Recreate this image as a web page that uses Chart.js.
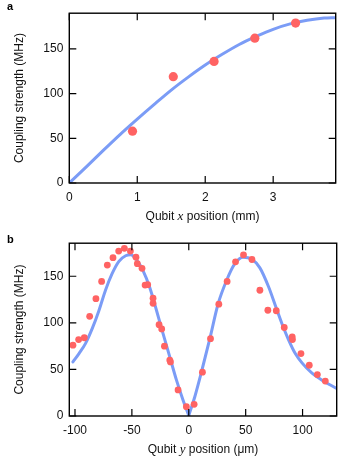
<!DOCTYPE html>
<html><head><meta charset="utf-8">
<script src="https://cdn.jsdelivr.net/npm/chart.js@4.4.1/dist/chart.umd.min.js"></script>
<style>html,body{margin:0;padding:0;background:#fff;}canvas{display:block;}</style>
</head><body>
<canvas id="ca" width="346" height="230"></canvas>
<canvas id="cb" width="346" height="229"></canvas>
<script>
// ---------- data ----------
const xTicksA = [0, 1, 2, 3];
const yTicksA = [0, 50, 100, 150];
const xTicksB = [-100, -50, 0, 50, 100];
const yTicksB = [0, 50, 100, 150];

// panel a: measured points
const posA  = [0.93, 1.53, 2.13, 2.73, 3.33];
const coupA = [58, 119, 136, 162, 179];
// panel a: fit curve
const fitPosA  = [0, 0.25, 0.5, 0.75, 1.0, 1.25, 1.5, 1.75, 2.0, 2.25, 2.5, 2.75, 3.0, 3.25, 3.5, 3.75, 3.92];
const fitCoupA = [0, 18, 36.5, 54.5, 71.5, 88, 104, 118.5, 132, 144, 155, 164, 172, 178, 182, 184.5, 185];

// panel b: measured points
const posB  = [-101.8, -96.8, -91.8, -87.1, -81.6, -76.6, -71.6, -66.6, -61.6, -56.6, -51.3, -46.4, -45.2, -41.1, -38.4, -36.1, -31.4, -31.4, -26.1, -23.8, -21.4, -16.7, -16.1, -9.4, -2.1, 4.7, 12.0, 19.1, 26.4, 33.7, 41.1, 48.1, 55.5, 62.5, 69.5, 76.9, 83.9, 90.9, 91.1, 98.6, 105.9, 113.0, 120.0];
const coupB = [76, 82, 84, 107, 126, 144.5, 162, 170, 177, 180, 177, 170.5, 163.5, 158.5, 140.5, 141, 126.5, 121, 98, 93.5, 75, 60, 58, 28, 10, 12.5, 47, 83, 120, 144.5, 165.5, 173, 168, 135, 113.5, 113, 95, 85, 82, 67, 54.5, 44.5, 37.5];
// panel b: fit curve, two branches meeting at the cusp
const fitLeftPosB  = [-101.8, -96.5, -90.7, -84.8, -79, -73.2, -67.3, -61.4, -55.5, -51, -45.5, -40.2, -34.3, -28.4, -22.6, -16.7, -10.8, -5, 0];
const fitLeftCoupB = [58, 67, 78, 94, 113, 135, 153, 166, 172, 173, 167, 156, 138, 113.5, 88.5, 63.5, 38.5, 17, 0.5];
const fitRightPosB  = [0, 5.3, 11.2, 18.5, 25.8, 33.2, 40.5, 47.8, 55.2, 62.5, 70.2, 76, 81.9, 87.8, 93.6, 99.5, 108.3, 117.1, 124, 130];
const fitRightCoupB = [0.5, 20.7, 47.5, 83, 120.5, 145.5, 163.5, 170.5, 168.5, 159, 138.5, 119, 99, 81.5, 67, 57, 46, 38.5, 33.5, 29.5];

// ---------- styling ----------
const FONT = "'Liberation Sans', Arial, sans-serif";
const DOT = '#ff6363';
const LINE = '#7b9cf6';
Chart.defaults.font.family = FONT;
Chart.defaults.font.size = 12;
Chart.defaults.color = '#111';
Chart.defaults.animation = false;

const pts = (xs, ys) => xs.map((x, i) => ({x: x, y: ys[i]}));

const frame = {
  id: 'frame',
  afterDatasetsDraw(chart, args, o) {
    const {ctx, chartArea: a, scales} = chart;
    ctx.save();
    ctx.strokeStyle = '#000';
    ctx.lineWidth = 1.4;
    ctx.strokeRect(a.left, a.top, a.right - a.left, a.bottom - a.top);
    ctx.lineWidth = 1.2;
    const L = 7;
    ctx.beginPath();
    o.xt.forEach(v => {
      const px = scales.x.getPixelForValue(v);
      ctx.moveTo(px, a.bottom); ctx.lineTo(px, a.bottom - L);
      ctx.moveTo(px, a.top); ctx.lineTo(px, a.top + L);
    });
    o.yt.forEach(v => {
      const py = scales.y.getPixelForValue(v);
      ctx.moveTo(a.left, py); ctx.lineTo(a.left + L, py);
      ctx.moveTo(a.right, py); ctx.lineTo(a.right - L, py);
    });
    ctx.stroke();
    // panel letter
    ctx.fillStyle = '#000';
    ctx.font = 'bold 11px ' + FONT;
    ctx.textBaseline = 'alphabetic';
    ctx.textAlign = 'left';
    ctx.fillText(o.letter, 7, o.letterY);
    // x-axis title with italic variable
    const parts = [['Qubit ', '12px ' + FONT], [o.v, 'italic 13px "Liberation Serif", serif'], [' position (' + o.unit + ')', '12px ' + FONT]];
    let w = 0;
    parts.forEach(p => { ctx.font = p[1]; w += ctx.measureText(p[0]).width; });
    let x = (a.left + a.right) / 2 - w / 2;
    const y = a.bottom + o.titleDy;
    ctx.textBaseline = 'middle';
    ctx.fillStyle = '#111';
    parts.forEach(p => { ctx.font = p[1]; ctx.fillText(p[0], x, y); x += ctx.measureText(p[0]).width; });
    ctx.restore();
  }
};

function makeChart(id, cfg) {
  return new Chart(document.getElementById(id), {
    type: 'scatter',
    data: {datasets: cfg.datasets},
    options: {
      responsive: false,
      devicePixelRatio: 1,
      layout: {padding: cfg.padding},
      plugins: {legend: {display: false}, tooltip: {enabled: false}, frame: cfg.frame},
      scales: {
        x: {
          type: 'linear', min: cfg.xmin, max: cfg.xmax,
          grid: {display: false, drawTicks: false},
          border: {display: false},
          ticks: {padding: 7, font: {size: 12}},
          afterBuildTicks: s => { s.ticks = cfg.xt.map(v => ({value: v})); },
          afterFit: s => { s.height = cfg.xh; }
        },
        y: {
          type: 'linear', min: 0, max: cfg.ymax,
          grid: {display: false, drawTicks: false},
          border: {display: false},
          ticks: {padding: 6, font: {size: 12}},
          afterBuildTicks: s => { s.ticks = cfg.yt.map(v => ({value: v})); },
          afterFit: s => { s.width = 69.3; },
          title: {display: true, text: 'Coupling strength (MHz)', padding: {top: 12, bottom: 0}, font: {size: 12}}
        }
      }
    },
    plugins: [frame]
  });
}

const lineDs = (data) => ({data: data, showLine: true, borderColor: LINE, borderWidth: 3, pointRadius: 0, cubicInterpolationMode: 'monotone', order: 2, borderCapStyle: 'round'});
const dotDs = (data, r) => ({data: data, showLine: false, backgroundColor: DOT, borderWidth: 0, pointRadius: r, order: 1});

makeChart('ca', {
  datasets: [dotDs(pts(posA, coupA), 4.6), lineDs(pts(fitPosA, fitCoupA))],
  padding: {left: 0, right: 10.3, top: 10, bottom: 0},
  xmin: 0, xmax: 3.92, ymax: 190, xt: xTicksA, yt: yTicksA, xh: 47,
  frame: {xt: xTicksA, yt: yTicksA, letter: 'a', letterY: 9.5, v: 'x', unit: 'mm', titleDy: 34}
});

makeChart('cb', {
  datasets: [dotDs(pts(posB, coupB), 3.4), lineDs(pts(fitLeftPosB, fitLeftCoupB)), lineDs(pts(fitRightPosB, fitRightCoupB))],
  padding: {left: 0, right: 9.3, top: 12.7, bottom: 0},
  xmin: -105, xmax: 130, ymax: 185.5, xt: xTicksB, yt: yTicksB, xh: 43,
  frame: {xt: xTicksB, yt: yTicksB, letter: 'b', letterY: 13, v: 'y', unit: 'μm', titleDy: 33.5}
});
</script>
</body></html>
